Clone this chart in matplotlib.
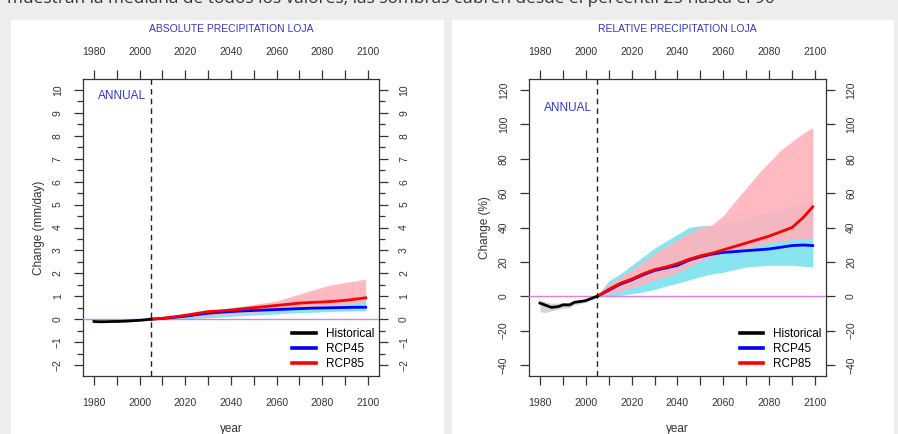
import numpy as np
import matplotlib
matplotlib.use("Agg")
import matplotlib.pyplot as plt
from matplotlib.patches import Rectangle
from matplotlib.lines import Line2D
from matplotlib.ticker import FixedLocator, MultipleLocator

plt.rcParams['font.family'] = ['Liberation Sans', 'DejaVu Sans']

# ---- data ----
hist_years = [1980, 1982, 1985, 1988, 1990, 1993, 1995, 1998, 2000, 2003, 2005]
fut_years = [2005, 2010, 2015, 2020, 2025, 2030, 2035, 2040, 2045, 2050,
             2055, 2060, 2065, 2070, 2075, 2080, 2085, 2090, 2095, 2099]

# absolute change (mm/day)
abs_hist = [-0.10, -0.11, -0.11, -0.10, -0.10, -0.09, -0.08, -0.06, -0.05, -0.02, 0.0]
abs_hist_lo = [-0.15, -0.16, -0.15, -0.14, -0.13, -0.12, -0.11, -0.09, -0.07, -0.03, 0.0]
abs_hist_hi = [-0.05, -0.06, -0.07, -0.06, -0.06, -0.05, -0.05, -0.04, -0.03, -0.01, 0.0]
abs_rcp45 = [0.0, 0.03, 0.08, 0.13, 0.20, 0.26, 0.30, 0.33, 0.36, 0.38,
             0.40, 0.42, 0.44, 0.46, 0.48, 0.49, 0.50, 0.51, 0.52, 0.52]
abs_rcp45_lo = [0.0, 0.0, 0.01, 0.02, 0.04, 0.06, 0.09, 0.12, 0.15, 0.18,
                0.20, 0.23, 0.26, 0.28, 0.30, 0.32, 0.34, 0.35, 0.36, 0.36]
abs_rcp45_hi = [0.0, 0.08, 0.14, 0.20, 0.27, 0.35, 0.43, 0.50, 0.57, 0.63,
                0.68, 0.73, 0.78, 0.83, 0.86, 0.90, 0.93, 0.97, 1.02, 1.06]
abs_rcp85 = [0.0, 0.04, 0.10, 0.17, 0.25, 0.33, 0.36, 0.40, 0.45, 0.50,
             0.55, 0.60, 0.65, 0.70, 0.73, 0.75, 0.78, 0.82, 0.88, 0.93]
abs_rcp85_lo = [0.0, 0.02, 0.05, 0.08, 0.11, 0.14, 0.17, 0.20, 0.24, 0.28,
                0.32, 0.36, 0.41, 0.46, 0.51, 0.56, 0.61, 0.66, 0.72, 0.77]
abs_rcp85_hi = [0.0, 0.07, 0.13, 0.19, 0.26, 0.33, 0.40, 0.48, 0.56, 0.65,
                0.72, 0.80, 0.95, 1.10, 1.25, 1.40, 1.52, 1.60, 1.68, 1.75]

# relative change (%)
rel_hist = [-4.0, -5.0, -6.5, -6.0, -5.0, -5.0, -3.5, -3.0, -2.5, -1.0, 0.0]
rel_hist_lo = [-9.0, -9.5, -8.5, -7.5, -7.0, -6.5, -5.0, -4.0, -3.5, -1.5, 0.0]
rel_hist_hi = [-2.0, -3.0, -4.0, -4.0, -3.5, -3.5, -2.5, -2.0, -1.5, -0.5, 0.0]
rel_rcp45 = [0.0, 3.5, 7.0, 9.5, 12.5, 15.0, 16.5, 18.0, 21.0, 23.0,
             24.5, 25.5, 26.0, 26.5, 27.0, 27.5, 28.5, 29.5, 29.8, 29.5]
rel_rcp45_lo = [0.0, 0.3, 0.5, 1.5, 2.5, 4.0, 6.0, 7.5, 9.5, 11.5,
                13.0, 14.0, 15.5, 17.0, 17.5, 18.0, 18.0, 18.0, 17.5, 17.0]
rel_rcp45_hi = [0.0, 9.0, 13.0, 18.0, 23.0, 28.0, 32.0, 36.0, 40.0, 41.0,
                41.0, 42.0, 44.0, 45.0, 47.0, 49.0, 51.0, 53.0, 55.0, 56.0]
rel_rcp85 = [0.0, 4.0, 7.5, 10.0, 13.0, 15.5, 17.0, 19.0, 21.5, 23.5,
             25.0, 27.0, 29.0, 31.0, 33.0, 35.0, 37.5, 40.0, 46.0, 52.0]
rel_rcp85_lo = [0.0, 1.5, 3.0, 5.0, 7.0, 9.5, 11.5, 14.0, 17.0, 20.5,
                23.0, 25.0, 27.0, 28.0, 29.5, 31.0, 32.0, 33.0, 33.5, 34.0]
rel_rcp85_hi = [0.0, 7.0, 11.0, 15.5, 20.0, 25.0, 29.0, 33.0, 37.0, 40.0,
                41.5, 47.0, 55.0, 63.0, 71.0, 78.0, 85.0, 90.0, 95.0, 98.0]

legend_labels = ["Historical", "RCP45", "RCP85"]
top_text = ("muestran la mediana de todos los valores, las sombras cubren "
            "desde el percentil 25 hasta el 90")

title_color = '#3535c8'
cyan = '#88e4ee'
pink = '#ffb3bb'
violet = '#e07ee6'


def draw_panel(ax, title, ylabel, hist, hist_lo, hist_hi,
               r45, r45_lo, r45_hi, r85, r85_lo, r85_hi,
               ylim, ymajor, yminor, annual_y):
    ax.set_xlim(1975.2, 2104.8)
    ax.set_ylim(*ylim)

    ax.fill_between(hist_years, hist_lo, hist_hi, color='#d4d4d4', lw=0, zorder=1)
    ax.fill_between(fut_years, r45_lo, r45_hi, color=cyan, lw=0, zorder=1)
    ax.fill_between(fut_years, r85_lo, r85_hi, color=pink, lw=0, alpha=0.9, zorder=2)
    ax.axhline(0, color=violet, lw=1.0, zorder=3)
    ax.axvline(2005, color='#222222', lw=1.0, ls=(0, (4, 3)), zorder=3)
    ax.plot(fut_years, r45, color='#0000ff', lw=2.0, zorder=4)
    ax.plot(fut_years, r85, color='#ff0000', lw=2.0, zorder=5)
    ax.plot(hist_years, hist, color='black', lw=2.0, zorder=6)

    ax.xaxis.set_major_locator(FixedLocator(range(1980, 2101, 20)))
    ax.xaxis.set_minor_locator(FixedLocator(range(1990, 2100, 20)))
    ax.yaxis.set_major_locator(MultipleLocator(ymajor))
    if yminor:
        ax.yaxis.set_minor_locator(MultipleLocator(yminor))
    else:
        ax.yaxis.set_minor_locator(FixedLocator([]))
    ax.tick_params(which='both', direction='out', top=True, right=True,
                   labeltop=True, labelright=True, width=0.9, color='#333333',
                   labelsize=7.5, labelcolor='#333333')
    ax.tick_params(axis='x', which='both', length=6.5, pad=9)
    ax.tick_params(axis='y', which='major', length=6.5, pad=8, labelrotation=90)
    ax.tick_params(axis='y', which='minor', length=4.5)
    for lab in ax.get_yticklabels():
        lab.set_va('center')
    for sp in ax.spines.values():
        sp.set_linewidth(0.9)
        sp.set_color('#333333')

    ax.text(0.5, 1.168, title, transform=ax.transAxes, ha='center', va='center',
            fontsize=7.5, color=title_color)
    ax.text(0.05, annual_y, "ANNUAL", transform=ax.transAxes, ha='left', va='center',
            fontsize=8.5, color=title_color)
    ax.text(0.5, -0.178, "year", transform=ax.transAxes, ha='center', va='center',
            fontsize=8.5, color='#333333')
    ax.set_ylabel(ylabel, fontsize=8.5, color='#333333', labelpad=6)

    handles = [Line2D([], [], color=c, lw=2.6) for c in ('black', '#0000ff', '#ff0000')]
    ax.legend(handles, legend_labels, loc='lower right', frameon=False,
              bbox_to_anchor=(0.985, 0.02), borderaxespad=0, borderpad=0,
              fontsize=8.5, handlelength=2.0, handletextpad=0.85,
              labelspacing=0.25)


fig = plt.figure(figsize=(8.98, 4.34), dpi=100, facecolor='#ededed')
fig.add_artist(Rectangle((0.012, 0.0), 0.482, 0.955, transform=fig.transFigure,
                         facecolor='white', edgecolor='none', zorder=0))
fig.add_artist(Rectangle((0.503, 0.0), 0.492, 0.955, transform=fig.transFigure,
                         facecolor='white', edgecolor='none', zorder=0))
# sentence above the charts, cut off by the top edge as in the screenshot
fig.text(0.008, 0.994, top_text, ha='left', va='baseline', fontsize=12.4,
         color='#333333', family=['Open Sans', 'DejaVu Sans'])

ax1 = fig.add_axes([0.0924, 0.1336, 0.3296, 0.6844])
ax2 = fig.add_axes([0.5891, 0.1336, 0.3307, 0.6844])

draw_panel(ax1, "ABSOLUTE PRECIPITATION LOJA", "Change (mm/day)",
           abs_hist, abs_hist_lo, abs_hist_hi,
           abs_rcp45, abs_rcp45_lo, abs_rcp45_hi,
           abs_rcp85, abs_rcp85_lo, abs_rcp85_hi,
           (-2.48, 10.48), 1, 0.5, 0.943)
draw_panel(ax2, "RELATIVE PRECIPITATION LOJA", "Change (%)",
           rel_hist, rel_hist_lo, rel_hist_hi,
           rel_rcp45, rel_rcp45_lo, rel_rcp45_hi,
           rel_rcp85, rel_rcp85_lo, rel_rcp85_hi,
           (-46.4, 126.4), 20, None, 0.903)

fig.savefig("out.png", dpi=100, facecolor=fig.get_facecolor())
